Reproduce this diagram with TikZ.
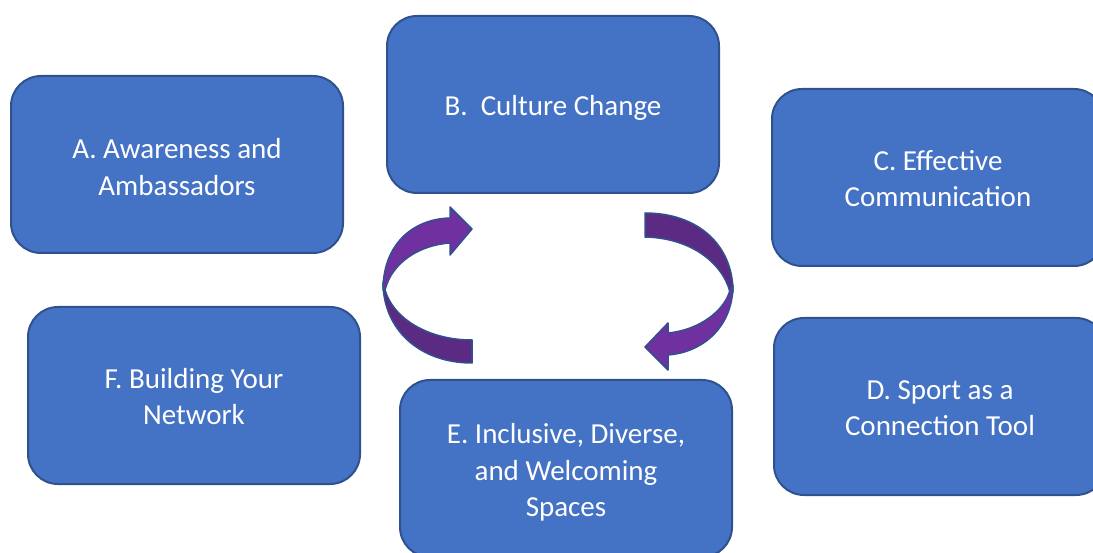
\documentclass[tikz,border=0pt]{standalone}
\usepackage{fontspec}
\setmainfont{Carlito}
\definecolor{boxfill}{HTML}{4472C4}
\definecolor{boxline}{HTML}{2F528F}
\definecolor{purplelight}{HTML}{7030A0}
\definecolor{purpledark}{HTML}{5B2A82}
\begin{document}
\begin{tikzpicture}[x=1pt,y=-1pt,
  stage/.style={draw=boxline, line width=2pt, fill=boxfill, rounded corners=30pt,
    minimum width=332pt, minimum height=177pt, inner sep=0pt},
  stagetext/.style={text=white, align=center, inner sep=0pt,
    font=\fontsize{29}{36.6}\selectfont},
  bandlight/.style={draw=boxline, line width=1.5pt, line join=round, fill=purplelight},
  banddark/.style={draw=boxline, line width=1.5pt, line join=round, fill=purpledark}]
\useasboundingbox (0,0) rectangle (1093,553);
\clip (0,0) rectangle (1093,553);

% stage boxes
\node[stage] (A) at (177,164.5) {};
\node[stage] (B) at (553,104.5) {};
\node[stage] (C) at (938,177.5) {};
\node[stage] (D) at (940,406.5) {};
\node[stage] (E) at (566,468.5) {};
\node[stage] (F) at (194,395.5) {};

% stage titles
\node[stagetext] (At) at (177,167) {A. Awareness and\\Ambassadors};
\node[stagetext] (Bt) at (553,108) {B.\ \ Culture Change};
\node[stagetext] (Ct) at (938,178.5) {C. Effective\\Communication};
\node[stagetext] (Dt) at (940,408) {D. Sport as a\\Connection Tool};
\node[stagetext] (Et) at (566,472.5) {E. Inclusive, Diverse,\\and Welcoming\\Spaces};
\node[stagetext] (Ft) at (194,396.5) {F. Building Your\\Network};

% left curved arrow: lower (back) half, then upper half with head
\path[banddark] (383,282) .. controls (383,330) and (420,363) .. (472,363)
  -- (472,340) .. controls (430,340) and (394,320) .. (385,290) -- cycle;
\path[bandlight] (383,290) .. controls (383,245) and (412,219) .. (450,218)
  -- (450,207) -- (472,229) -- (450,255) -- (450,243)
  .. controls (420,245) and (392,262) .. (385,290) -- cycle;

% right curved arrow: upper (back) half, then lower half with head
\path[banddark] (645,213) .. controls (698,213) and (733,245) .. (733,292)
  -- (730,292) .. controls (722,262) and (690,238) .. (645,237) -- cycle;
\path[bandlight] (733,285) .. controls (733,325) and (705,352) .. (668,355)
  -- (668,370) -- (645,347) -- (668,323) -- (668,333)
  .. controls (700,330) and (725,310) .. (730,290) -- cycle;
\end{tikzpicture}
\end{document}
